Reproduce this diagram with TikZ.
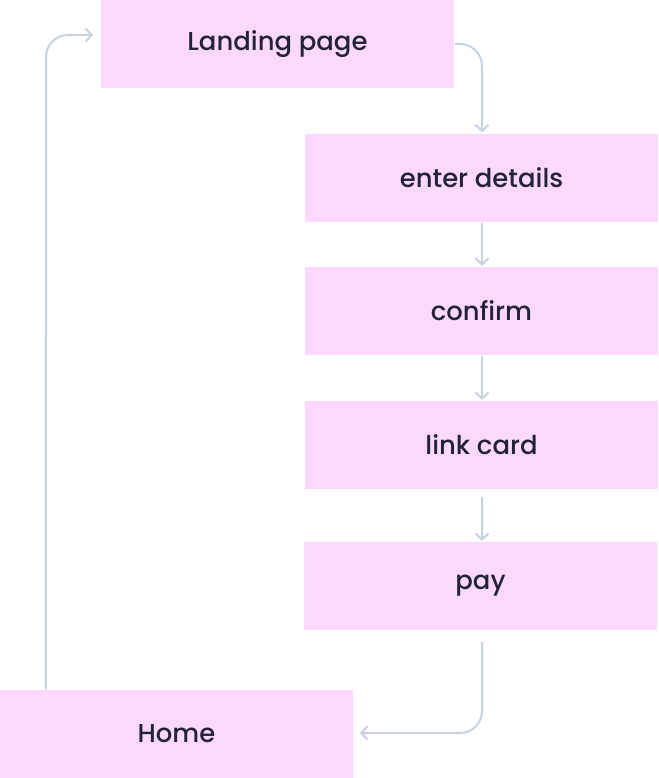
\documentclass[tikz,border=0pt]{standalone}
\usepackage{fontspec}
\setmainfont{Poppins}[UprightFont={* Medium}]
\usetikzlibrary{arrows.meta}
\definecolor{boxpink}{RGB}{253,216,254}
\definecolor{linegray}{RGB}{200,209,221}
\definecolor{textnavy}{RGB}{34,34,58}
\begin{document}
\begin{tikzpicture}[x=1bp,y=-1bp,
  stepbox/.style={fill=boxpink,draw=none,minimum width=353bp,minimum height=88bp,inner sep=0pt,
    text=textnavy,font=\fontsize{26}{30}\selectfont},
  conn/.style={draw=linegray,line width=2bp,rounded corners=22bp,
    -{Straight Barb[length=6bp,width=13bp,line width=2bp]}}]
\useasboundingbox (0,0) rectangle (659,778);
\node[stepbox] (land) at (277.5,44) {Landing page};
\node[stepbox] (enter) at (481.5,177.5) {enter details};
\node[stepbox] (conf) at (481.5,311) {confirm};
\node[stepbox] (link) at (481.5,445) {link card};
\node[stepbox] (pay) at (480.5,586) {pay};
\node[stepbox] (home) at (176.5,733.5) {Home};
\coordinate (landend) at (93,35);
\coordinate (homeend) at (360,733);
\draw[conn] ([xshift=46bp-176.5bp]home.north) -- (46,35) -- (landend);
\draw[conn] ([xshift=1bp]land.east) -- (482,44) -- ([xshift=0.5bp,yshift=1bp]enter.north);
\draw[conn] ([xshift=0.5bp,yshift=-1bp]enter.south) -- ([xshift=0.5bp,yshift=1bp]conf.north);
\draw[conn] ([xshift=0.5bp,yshift=-1bp]conf.south) -- ([xshift=0.5bp,yshift=1bp]link.north);
\draw[conn] ([xshift=0.5bp,yshift=-8bp]link.south) -- ([xshift=1.5bp,yshift=1bp]pay.north);
\draw[conn] ([xshift=1.5bp,yshift=-12bp]pay.south) -- (482,733) -- (homeend);
\end{tikzpicture}
\end{document}
